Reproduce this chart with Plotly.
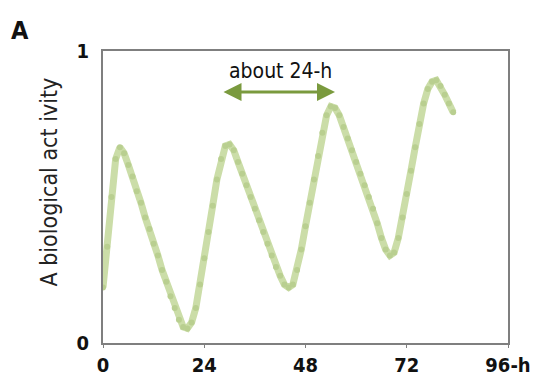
import plotly.graph_objects as go

# time (hours) and activity values
hours = list(range(0, 84))
activity = [
    0.19, 0.33, 0.50, 0.63, 0.67, 0.65, 0.61, 0.57, 0.52, 0.48,
    0.43, 0.39, 0.34, 0.30, 0.25, 0.21, 0.16, 0.12, 0.08, 0.055,
    0.05, 0.07, 0.12, 0.20, 0.29, 0.38, 0.47, 0.56, 0.63, 0.675,
    0.68, 0.66, 0.62, 0.58, 0.54, 0.50, 0.46, 0.42, 0.38, 0.34,
    0.30, 0.26, 0.23, 0.20, 0.19, 0.20, 0.25, 0.32, 0.40, 0.48,
    0.56, 0.64, 0.72, 0.78, 0.81, 0.805, 0.78, 0.74, 0.70, 0.66,
    0.62, 0.58, 0.54, 0.50, 0.46, 0.41, 0.36, 0.32, 0.30, 0.31,
    0.36, 0.43, 0.51, 0.59, 0.67, 0.75, 0.82, 0.87, 0.895, 0.90,
    0.88, 0.85, 0.82, 0.79,
]

x_tick_vals = [0, 24, 48, 72, 96]
x_tick_text = ["<b>0</b>", "<b>24</b>", "<b>48</b>", "<b>72</b>", "<b>96-h</b>"]
y_tick_vals = [0, 1]
y_tick_text = ["<b>0</b>", "<b>1</b>"]

arrow_start, arrow_end, arrow_level = 28.2, 55.0, 0.86
label_x, label_y = 42.0, 0.93

FONT = "DejaVu Sans Condensed, Liberation Sans Narrow, sans-serif"

fig = go.Figure()
fig.add_trace(go.Scatter(
    x=hours, y=activity, mode="lines+markers",
    line=dict(color="#cbdda8", width=7),
    marker=dict(color="#b9cf90", size=6),
    showlegend=False, hoverinfo="skip",
))

fig.add_annotation(
    x=arrow_end, y=arrow_level, ax=arrow_start, ay=arrow_level,
    xref="x", yref="y", axref="x", ayref="y",
    text="", showarrow=True, arrowhead=2, startarrowhead=2,
    arrowside="end+start", arrowsize=1.2, startarrowsize=1.2,
    arrowwidth=3, arrowcolor="#7a9a3e",
)
fig.add_annotation(
    x=label_x, y=label_y, xref="x", yref="y", text="about 24-h",
    showarrow=False, font=dict(family=FONT, size=21, color="#111"),
)
fig.add_annotation(
    x=-0.133, y=0.55, xref="paper", yref="paper",
    xanchor="center", yanchor="middle",
    text="A biological act ivity", textangle=-90, showarrow=False,
    font=dict(family=FONT, size=23, color="#222"),
)
fig.add_annotation(
    x=-0.205, y=1.07, xref="paper", yref="paper", text="<b>A</b>",
    xanchor="center", yanchor="middle",
    showarrow=False, font=dict(family=FONT, size=25, color="#111"),
)

# the page adds an 8px body margin, so the figure is offset by (8, 8)
fig.update_layout(
    width=546, height=368,
    margin=dict(l=95, r=46, t=43, b=33, autoexpand=False),
    paper_bgcolor="white", plot_bgcolor="white",
    font=dict(family=FONT, size=20, color="#222"),
)
fig.update_xaxes(
    range=[0, 96], tickvals=x_tick_vals, ticktext=x_tick_text,
    showgrid=False, zeroline=False, showline=True, linecolor="#7f7f7f",
    linewidth=2, mirror=True, ticks="outside", ticklen=3, tickcolor="#7f7f7f",
    ticklabelstandoff=0,
    tickfont=dict(family=FONT, size=20, color="#111"), automargin=False,
)
fig.update_yaxes(
    range=[0, 1], tickvals=y_tick_vals, ticktext=y_tick_text,
    showgrid=False, zeroline=False, showline=True, linecolor="#7f7f7f",
    linewidth=2, mirror=True, ticks="", ticklabelstandoff=8,
    tickfont=dict(family=FONT, size=20, color="#111"), automargin=False,
)

fig.write_html("out.html")
